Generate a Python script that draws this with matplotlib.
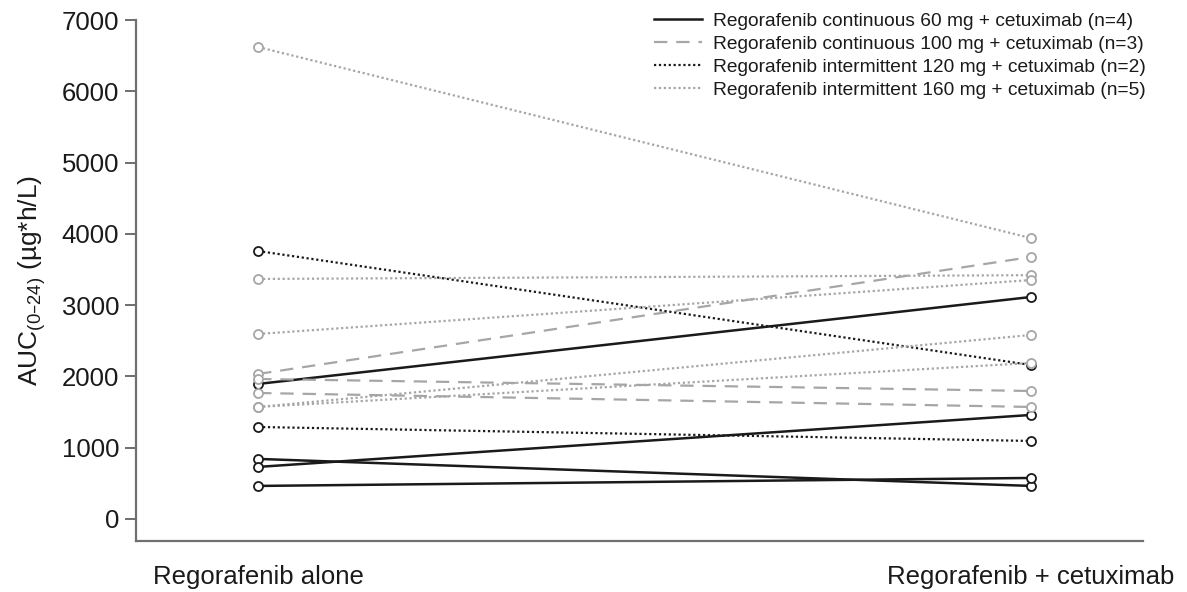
import matplotlib
matplotlib.use("Agg")
import matplotlib.pyplot as plt

plt.rcParams['font.family'] = ['Liberation Sans', 'DejaVu Sans']
plt.rcParams['mathtext.default'] = 'regular'

# AUC(0-24) per patient, regorafenib alone vs. with cetuximab
conditions = ["Regorafenib alone", "Regorafenib + cetuximab"]

cont60_alone = [1894, 842, 730, 463]
cont60_combo = [3114, 463, 1459, 575]

cont100_alone = [2034, 1964, 1767]
cont100_combo = [3675, 1795, 1571]

int120_alone = [3759, 1290]
int120_combo = [2160, 1094]

int160_alone = [6621, 3367, 2595, 1571, 1571]
int160_combo = [3940, 3420, 3352, 2581, 2188]

groups = [
    ("Regorafenib continuous 60 mg + cetuximab (n=4)", cont60_alone, cont60_combo, "#1a1a1a", "-", 1.8),
    ("Regorafenib continuous 100 mg + cetuximab (n=3)", cont100_alone, cont100_combo, "#a6a6a6", (0, (6, 4)), 1.6),
    ("Regorafenib intermittent 120 mg + cetuximab (n=2)", int120_alone, int120_combo, "#1a1a1a", (0, (1, 1.2)), 1.6),
    ("Regorafenib intermittent 160 mg + cetuximab (n=5)", int160_alone, int160_combo, "#a6a6a6", (0, (1, 1.2)), 1.6),
]

fig = plt.figure(figsize=(11.87, 5.92), dpi=100)
ax = fig.add_axes([0.1146, 0.0861, 0.963 - 0.1146, 0.9662 - 0.0861])

x = [0, 1]
for label, a, b, color, ls, lw in groups:
    for i, (v0, v1) in enumerate(zip(a, b)):
        ax.plot(x, [v0, v1], color=color, linestyle=ls, linewidth=lw,
                marker='o', markersize=6.5, markerfacecolor='white',
                markeredgecolor=color, markeredgewidth=1.3,
                label=label if i == 0 else None)

ax.set_xlim(-0.158, 1.145)
ax.set_ylim(-310, 7000)
ax.set_yticks(range(0, 7001, 1000))
ax.set_xticks(x)
ax.set_xticklabels(conditions, fontsize=18.5, color='#1a1a1a')
ax.tick_params(axis='x', length=0, pad=17)
ax.tick_params(axis='y', length=8, width=1.2, color='#555555', labelsize=18.5,
               labelcolor='#1a1a1a', pad=4)

for side in ['top', 'right']:
    ax.spines[side].set_visible(False)
for side in ['left', 'bottom']:
    ax.spines[side].set_color('#707070')
    ax.spines[side].set_linewidth(1.6)

ax.set_ylabel('AUC$_{(0\u201324)}$ (\u00b5g*h/L)', fontsize=19, color='#1a1a1a', labelpad=10)

# legend handles are plain lines, no markers
handles, labels = ax.get_legend_handles_labels()
leg = ax.legend(handles, labels, loc='upper right', bbox_to_anchor=(1.02, 1.048),
                frameon=False, fontsize=13.8, handlelength=2.5, handletextpad=0.6,
                labelspacing=0.3)
for line in leg.get_lines():
    line.set_marker('')
for t in leg.get_texts():
    t.set_color('#1a1a1a')

fig.savefig("out.png", dpi=100)
